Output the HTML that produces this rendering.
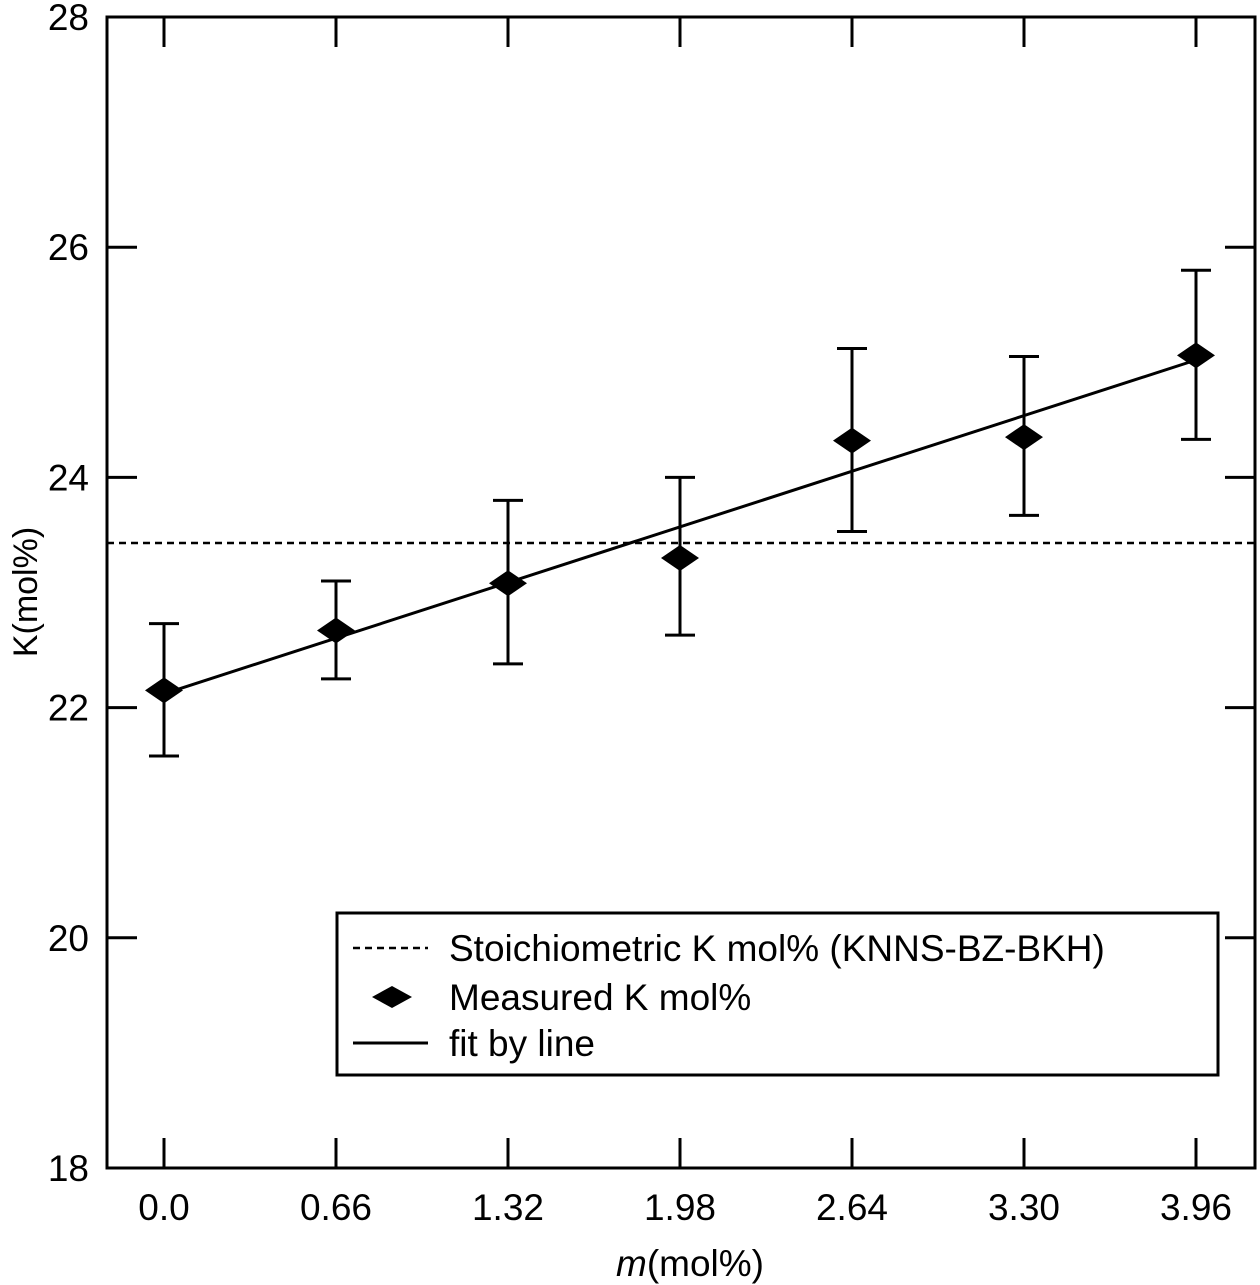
<!DOCTYPE html>
<html><head><meta charset="utf-8"><style>
html,body{margin:0;padding:0;background:#fff;width:1260px;height:1285px;overflow:hidden}
text{font-family:"Liberation Sans",Arial,sans-serif;fill:#000}
</style></head><body>
<svg id="chart" width="1260" height="1285" viewBox="0 0 1260 1285" xmlns="http://www.w3.org/2000/svg"></svg>
<script>
const categories = [0, 0.66, 1.32, 1.98, 2.64, 3.30, 3.96];
const xTickLabels = ["0.0","0.66","1.32","1.98","2.64","3.30","3.96"];
const measured = [22.15, 22.67, 23.08, 23.30, 24.32, 24.35, 25.06];
const errUpper = [22.73, 23.10, 23.80, 24.00, 25.12, 25.05, 25.80];
const errLower = [21.58, 22.25, 22.38, 22.63, 23.53, 23.67, 24.33];
const fitStart = 22.12;
const fitEnd = 25.02;
const stoich = 23.43;
const yTicks = [18, 20, 22, 24, 26, 28];

const L=107, R=1255, T=17, B=1168;
const xS = v => 164 + v/0.66*172;
const yS = v => B - (v-18)/10*(B-T);
const svg = document.getElementById('chart');
const NS='http://www.w3.org/2000/svg';
function mk(tag, attrs, parent){
  const e=document.createElementNS(NS,tag);
  for(const k in attrs) e.setAttribute(k,attrs[k]);
  (parent||svg).appendChild(e); return e;
}
// frame
const frame = mk('rect',{x:L,y:T,width:R-L,height:B-T,fill:'none',stroke:'#000','stroke-width':3});


// y ticks
yTicks.forEach(v=>{
  const y=yS(v);
  const t1=mk('line',{x1:L,y1:y,x2:L+30,y2:y,stroke:'#000','stroke-width':3});
  
  
  const t2=mk('line',{x1:R-30,y1:y,x2:R,y2:y,stroke:'#000','stroke-width':3});
  
  
  const lb=mk('text',{x:89,y:y+13,'text-anchor':'end','font-size':37});
  lb.textContent=v;
  
  
});
// x ticks
categories.forEach((c,i)=>{
  const x=xS(c);
  const t1=mk('line',{x1:x,y1:B-30,x2:x,y2:B,stroke:'#000','stroke-width':3});
  
  
  const t2=mk('line',{x1:x,y1:T,x2:x,y2:T+30,stroke:'#000','stroke-width':3});
  
  
  const lb=mk('text',{x:x,y:1220,'text-anchor':'middle','font-size':37});
  lb.textContent=xTickLabels[i];
  
  
});
// axis titles
const xt=mk('text',{x:690,y:1276,'text-anchor':'middle','font-size':37});
xt.innerHTML='<tspan font-style="italic">m</tspan>(mol%)';


const yt=mk('text',{x:0,y:0,'text-anchor':'middle','font-size':34,transform:'translate(37,592) rotate(-90)'});
yt.textContent='K(mol%)';


// stoichiometric line
const sl=mk('line',{x1:L,y1:yS(stoich),x2:R,y2:yS(stoich),stroke:'#000','stroke-width':2.5,'stroke-dasharray':'7,5'});


// fit line
const fl=mk('line',{x1:xS(categories[0]),y1:yS(fitStart),x2:xS(categories[categories.length-1]),y2:yS(fitEnd),stroke:'#000','stroke-width':3});


// error bars & markers
categories.forEach((c,i)=>{
  const x=xS(c), yu=yS(errUpper[i]), yl=yS(errLower[i]), y=yS(measured[i]);
  const g=mk('g',{});
  
  
  mk('line',{x1:x,y1:yu,x2:x,y2:yl,stroke:'#000','stroke-width':3},g);
  mk('line',{x1:x-15,y1:yu,x2:x+15,y2:yu,stroke:'#000','stroke-width':3},g);
  mk('line',{x1:x-15,y1:yl,x2:x+15,y2:yl,stroke:'#000','stroke-width':3},g);
  const p=mk('polygon',{points:`${x-19},${y} ${x},${y-13} ${x+19},${y} ${x},${y+13}`,fill:'#000'});
  
  
});
// legend
const lg=mk('g',{});


mk('rect',{x:337,y:913,width:881,height:162,fill:'#fff',stroke:'#000','stroke-width':3},lg);
mk('line',{x1:353,y1:948,x2:428,y2:948,stroke:'#000','stroke-width':2.5,'stroke-dasharray':'7,5'},lg);
mk('polygon',{points:'372,997 392,986 412,997 392,1008',fill:'#000'},lg);
mk('line',{x1:353,y1:1043,x2:428,y2:1043,stroke:'#000','stroke-width':3},lg);
const labels=['Stoichiometric K mol% (KNNS-BZ-BKH)','Measured K mol%','fit by line'];
const ly=[961,1010,1056];
labels.forEach((s,i)=>{
  const t=mk('text',{x:449,y:ly[i],'font-size':37},lg);
  t.textContent=s;
  
  
});
</script>
</body></html>
